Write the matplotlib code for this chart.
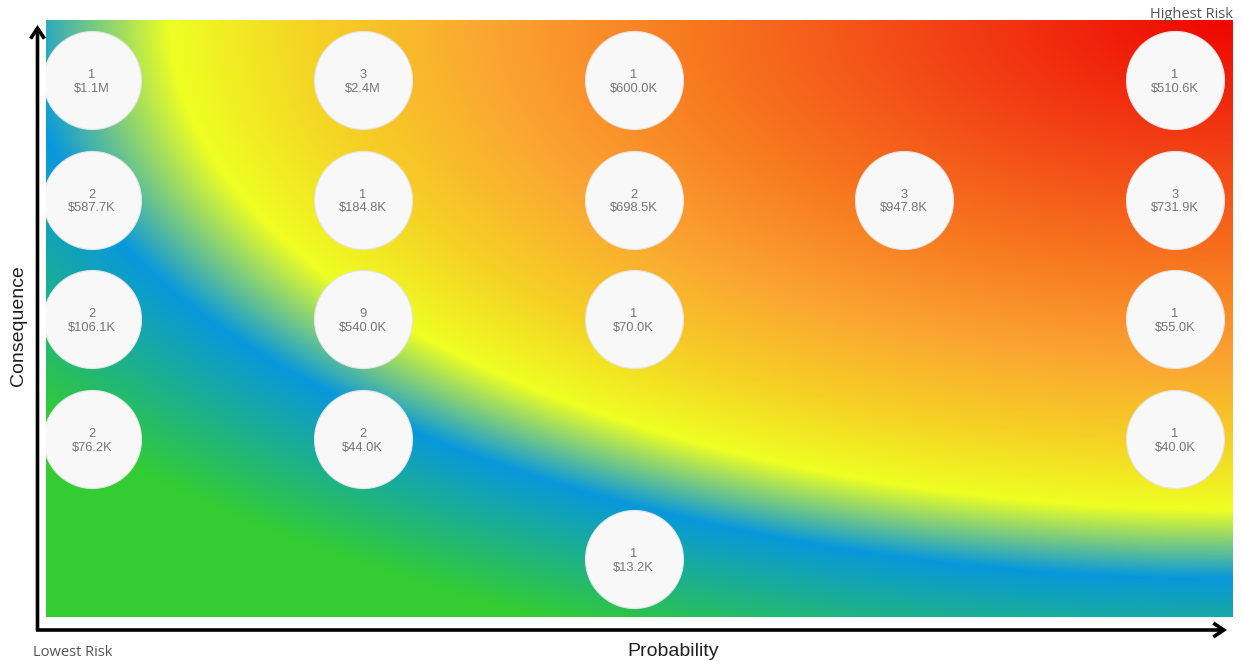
import numpy as np
import matplotlib
matplotlib.use("Agg")
import matplotlib.pyplot as plt
from matplotlib.colors import LinearSegmentedColormap
from matplotlib.patches import FancyArrowPatch, ArrowStyle

# Risk register summary: one bubble per (probability, consequence) cell
probability = [1, 2, 3, 5, 1, 2, 3, 4, 5, 1, 2, 3, 5, 1, 2, 5, 3]
consequence = [5, 5, 5, 5, 4, 4, 4, 4, 4, 3, 3, 3, 3, 2, 2, 2, 1]
risk_count = [1, 3, 1, 1, 2, 1, 2, 3, 3, 2, 9, 1, 1, 2, 2, 1, 1]
exposure = [1.1e6, 2.4e6, 600.0e3, 510.6e3,
            587.7e3, 184.8e3, 698.5e3, 947.8e3, 731.9e3,
            106.1e3, 540.0e3, 70.0e3, 55.0e3,
            76.2e3, 44.0e3, 40.0e3,
            13.2e3]


def money(v):
    if v >= 1e6:
        return f"${v / 1e6:.1f}M"
    return f"${v / 1e3:.1f}K"


W, H, DPI = 1241, 661, 100
fig = plt.figure(figsize=(W / DPI, H / DPI), dpi=DPI)
fig.patch.set_facecolor("white")

# plot area in pixels
x0, x1, y0, y1 = 46, 1233, 20, 617
pw, ph = x1 - x0, y1 - y0
ax = fig.add_axes([x0 / W, (H - y1) / H, pw / W, ph / H])

# cell pitch: columns 1..5 and rows 1..5
col_px, row_px = 270.75, 119.75
xlim = (1 - (92 - x0) / col_px, 5 + (x1 - 1175) / col_px)
ylim = (1 - (y1 - 559) / row_px, 5 + (80 - y0) / row_px)
ax.set_xlim(*xlim)
ax.set_ylim(*ylim)

# elliptical risk gradient radiating from the top-right corner
stops = [
    (0.00, "#ee0500"),
    (0.25, "#f23c14"),
    (0.50, "#f7761f"),
    (0.70, "#fba532"),
    (0.86, "#f6d025"),
    (1.00, "#eeff22"),
    (1.14, "#0898dc"),
    (1.38, "#33cc33"),
]
dmax = stops[-1][0]
cmap = LinearSegmentedColormap.from_list(
    "risk", [(p / dmax, c) for p, c in stops], N=4096)
u = np.linspace(0, 1, pw)
v = np.linspace(0, 1, ph)
U, V = np.meshgrid(u, v)
dx = (1 - U) * pw
dy = (1 - V) * ph
d = np.sqrt((dx / 1063.0) ** 2 + (dy / 490.0) ** 2)
img = cmap(np.clip(d / dmax, 0, 1))
ax.imshow(img, extent=(xlim[0], xlim[1], ylim[0], ylim[1]),
          origin="lower", aspect="auto", interpolation="bilinear", zorder=0)

# bubbles
diam_pt = 98 * 72 / DPI
ax.scatter(probability, consequence, s=diam_pt ** 2, facecolor="#f8f8f8",
           edgecolor="#e4e4e4", linewidth=0.8, zorder=3)
for px, cy, n, val in zip(probability, consequence, risk_count, exposure):
    ax.annotate(str(n), xy=(px, cy), xytext=(0, 3.6), textcoords="offset points",
                ha="center", va="center", fontsize=9.3, color="#777777",
                family="Liberation Sans", zorder=4)
    ax.annotate(money(val), xy=(px, cy), xytext=(0, -6.2), textcoords="offset points",
                ha="center", va="center", fontsize=9.3, color="#777777",
                family="Liberation Sans", zorder=4)

ax.set_xticks([])
ax.set_yticks([])
for s in ax.spines.values():
    s.set_visible(False)

# overlay in pixel coordinates for the axis arrows and captions
ov = fig.add_axes([0, 0, 1, 1], zorder=5)
ov.set_xlim(0, W)
ov.set_ylim(H, 0)
ov.axis("off")
ov.patch.set_alpha(0)

style = ArrowStyle("->", head_length=7.5, head_width=5.0)
ov.add_patch(FancyArrowPatch((37.5, 631), (37.5, 25), arrowstyle=style,
                             mutation_scale=1, lw=2.6, color="black",
                             shrinkA=0, shrinkB=0, joinstyle="miter",
                             capstyle="butt"))
ov.add_patch(FancyArrowPatch((36, 630), (1227, 630), arrowstyle=style,
                             mutation_scale=1, lw=2.6, color="black",
                             shrinkA=0, shrinkB=0, joinstyle="miter",
                             capstyle="butt"))

ov.text(673, 651, "Probability", ha="center", va="center", fontsize=14,
        color="#222222", family="Liberation Sans")
ov.text(19, 326, "Consequence", ha="center", va="center", fontsize=14,
        rotation=90, color="#222222", family="Liberation Sans")
ov.text(33, 652, "Lowest Risk", ha="left", va="center", fontsize=10.5,
        color="#555555", family="Open Sans")
ov.text(1233, 14, "Highest Risk", ha="right", va="center", fontsize=10.5,
        color="#555555", family="Open Sans")

fig.savefig("out.png", dpi=DPI, facecolor="white")
